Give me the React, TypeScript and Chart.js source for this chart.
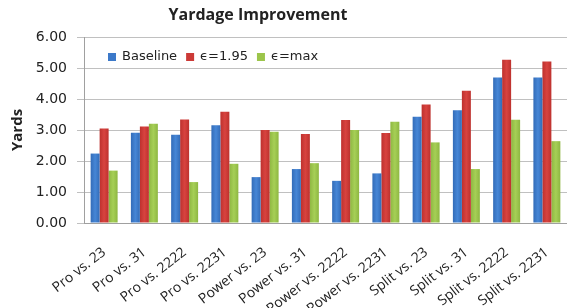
import React, { useEffect, useRef } from "react";
import { Chart, registerables } from "chart.js";

Chart.register(...registerables);

const categories = [
  "Pro vs. 23", "Pro vs. 31", "Pro vs. 2222", "Pro vs. 2231",
  "Power vs. 23", "Power vs. 31", "Power vs. 2222", "Power vs. 2231",
  "Split vs. 23", "Split vs. 31", "Split vs. 2222", "Split vs. 2231",
];
const baseline = [2.24, 2.91, 2.85, 3.15, 1.48, 1.74, 1.36, 1.60, 3.43, 3.64, 4.69, 4.69];
const eps195 = [3.05, 3.11, 3.34, 3.59, 3.00, 2.87, 3.32, 2.90, 3.82, 4.27, 5.27, 5.21];
const epsMax = [1.69, 3.20, 1.32, 1.91, 2.94, 1.93, 3.00, 3.27, 2.60, 1.74, 3.33, 2.64];
const seriesLabels = ["Baseline", "\u03F5=1.95", "\u03F5=max"];
const seriesColors = ["#3c79c9", "#cc3a37", "#9cc54b"];
const seriesDark = ["#336cb8", "#bd312e", "#8eb742"];
const seriesLight = ["#4686d6", "#d8433f", "#a6cf56"];
const yTicks = [0, 1, 2, 3, 4, 5, 6];
const titleText = "Yardage Improvement";
const yTitle = "Yards";

const SANS = "'Open Sans', 'DejaVu Sans', sans-serif";
const VERD = "'DejaVu Sans', sans-serif";

const overlayPlugin = {
  id: "overlay",
  afterDraw(chart: any) {
    const ctx = chart.ctx;
    ctx.save();
    ctx.font = `bold 16px ${SANS}`;
    ctx.fillStyle = "#222";
    ctx.textAlign = "center";
    ctx.textBaseline = "middle";
    ctx.fillText(titleText, 258, 15);
    ctx.font = `13px ${VERD}`;
    ctx.textAlign = "left";
    let x = 108;
    const y = 57;
    chart.data.datasets.forEach((ds: any, i: number) => {
      ctx.fillStyle = seriesColors[i];
      ctx.fillRect(x, y - 4, 8, 8);
      ctx.fillStyle = "#222";
      ctx.fillText(ds.label, x + 14, y);
      x += 14 + ctx.measureText(ds.label).width + 9;
    });
    ctx.restore();
  },
};

function barFill(i: number) {
  return (c: any) => {
    const el = c.element;
    if (!el || typeof el.x !== "number" || !el.width) return seriesColors[i];
    const g = c.chart.ctx.createLinearGradient(el.x - el.width / 2, 0, el.x + el.width / 2, 0);
    g.addColorStop(0, seriesDark[i]);
    g.addColorStop(0.5, seriesLight[i]);
    g.addColorStop(1, seriesDark[i]);
    return g;
  };
}

export default function App() {
  const ref = useRef<HTMLCanvasElement>(null);
  useEffect(() => {
    if (!ref.current) return;
    const data = [baseline, eps195, epsMax];
    const chart = new Chart(ref.current, {
      type: "bar",
      data: {
        labels: categories,
        datasets: data.map((d, i) => ({
          label: seriesLabels[i],
          data: d,
          backgroundColor: barFill(i) as any,
          borderWidth: 0,
          categoryPercentage: 0.67,
          barPercentage: 1.0,
        })),
      },
      options: {
        responsive: false,
        animation: false,
        layout: { padding: { top: 37, right: -5, left: 0, bottom: 0 } },
        plugins: {
          legend: { display: false },
          title: { display: false },
          tooltip: { enabled: false },
        },
        scales: {
          x: {
            offset: true,
            grid: { display: false },
            border: { display: true, color: "#a0a0a0" },
            ticks: {
              minRotation: 38,
              maxRotation: 38,
              autoSkip: false,
              color: "#222",
              font: { family: SANS, size: 14 },
              padding: 13,
            },
            afterFit(scale: any) {
              scale.height = 85;
              scale.paddingLeft = 0;
              scale.paddingRight = 0;
            },
          },
          y: {
            min: 0,
            max: 6,
            afterBuildTicks(scale: any) {
              scale.ticks = yTicks.map((v) => ({ value: v }));
            },
            grid: { color: "#c0c0c0", tickLength: 7, lineWidth: 1 },
            border: { display: true, color: "#a0a0a0" },
            ticks: {
              color: "#222",
              font: { family: VERD, size: 14 },
              padding: 10,
              callback: (v: any) => Number(v).toFixed(2),
            },
            title: {
              display: true,
              text: yTitle,
              color: "#222",
              font: { family: SANS, size: 15, weight: "bold" },
              padding: { top: 9, bottom: 0 },
            },
            afterFit(scale: any) {
              scale.width = 84;
            },
          },
        },
      },
      plugins: [overlayPlugin],
    });
    chart.update("none");
    return () => chart.destroy();
  }, []);
  return (
    <div style={{ position: "absolute", left: 0, top: 0, width: 567, height: 308, background: "#fff" }}>
      <canvas ref={ref} width={567} height={308} />
    </div>
  );
}
